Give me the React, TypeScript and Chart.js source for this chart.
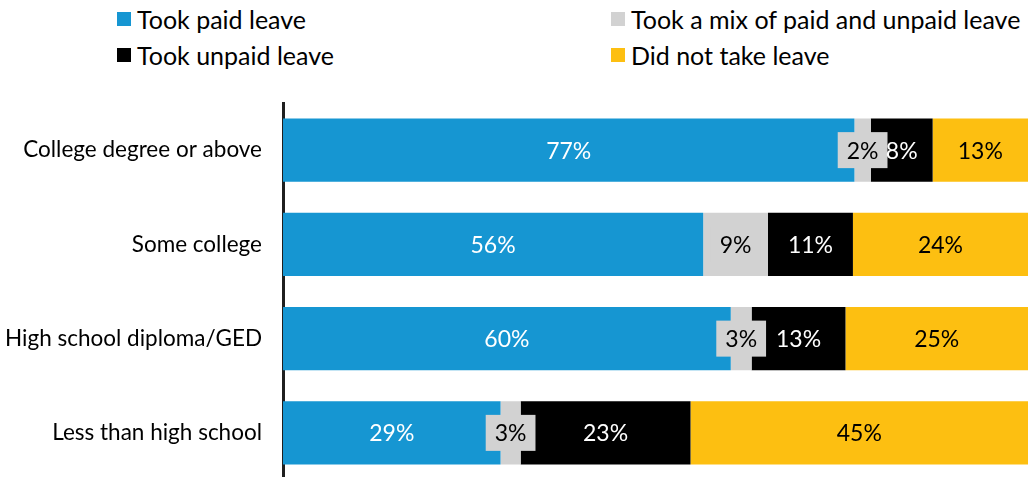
import React, { useEffect, useRef } from "react";
import { Chart, registerables } from "chart.js";

Chart.register(...registerables);

const categories = [
  "College degree or above",
  "Some college",
  "High school diploma/GED",
  "Less than high school",
];
const seriesNames = [
  "Took paid leave",
  "Took a mix of paid and unpaid leave",
  "Took unpaid leave",
  "Did not take leave",
];
const paidLeave = [76.7, 56.4, 60.1, 29.2];
const mixedLeave = [2.2, 8.7, 2.8, 2.7];
const unpaidLeave = [8.3, 11.4, 12.6, 22.8];
const noLeave = [12.8, 23.5, 24.5, 45.3];
const colors = ["#1696d2", "#d2d2d2", "#000000", "#fdbf11"];
const labelColors = ["#ffffff", "#000000", "#ffffff", "#000000"];

const FONT = "Lato, 'Open Sans', sans-serif";

const labelPlugin = {
  id: "segLabels",
  afterDatasetsDraw(chart: any) {
    const ctx = chart.ctx;
    ctx.save();
    ctx.font = `23px ${FONT}`;
    ctx.textAlign = "center";
    ctx.textBaseline = "middle";
    chart.data.datasets.forEach((ds: any, di: number) => {
      const meta = chart.getDatasetMeta(di);
      meta.data.forEach((el: any, i: number) => {
        const v = ds.data[i];
        const text = Math.round(v) + "%";
        const cx = (el.x + el.base) / 2;
        const cy = el.y;
        if (di === 1) {
          const w = ctx.measureText(text).width + 18;
          const h = 36;
          ctx.fillStyle = colors[1];
          ctx.fillRect(cx - w / 2, cy - h / 2, w, h);
        }
        ctx.fillStyle = labelColors[di];
        ctx.fillText(text, cx, cy + 1);
      });
    });
    ctx.restore();
  },
};

export default function App() {
  const ref = useRef<HTMLCanvasElement | null>(null);
  useEffect(() => {
    if (!ref.current) return;
    const series = [paidLeave, mixedLeave, unpaidLeave, noLeave];
    const chart = new Chart(ref.current, {
      type: "bar",
      data: {
        labels: categories,
        datasets: series.map((d, i) => ({
          label: seriesNames[i],
          data: d,
          backgroundColor: colors[i],
          borderWidth: 0,
          barPercentage: 0.67,
          categoryPercentage: 1,
        })),
      },
      options: {
        indexAxis: "y",
        animation: false,
        responsive: true,
        maintainAspectRatio: false,
        layout: { padding: { top: 103, right: 0, bottom: 0, left: 0 } },
        plugins: { legend: { display: false }, tooltip: { enabled: false } },
        scales: {
          x: { stacked: true, min: 0, max: 100, display: false },
          y: {
            stacked: true,
            z: 1,
            grid: { display: false, drawTicks: false },
            border: { display: true, color: "#1f1f1f", width: 3 },
            ticks: {
              padding: 21,
              color: "#000000",
              font: { family: FONT, size: 22.5 },
            },
            afterFit(scale: any) {
              scale.width = 283;
              scale.paddingTop = 0;
              scale.paddingBottom = 0;
            },
          },
        },
      },
      plugins: [labelPlugin],
    } as any);
    return () => chart.destroy();
  }, []);

  const legendItem = (i: number, left: number, top: number) => (
    <div
      key={i}
      style={{
        position: "absolute",
        left,
        top,
        display: "flex",
        alignItems: "center",
        fontFamily: FONT,
        fontSize: 25,
        color: "#000",
        whiteSpace: "nowrap",
        lineHeight: "36px",
      }}
    >
      <span
        style={{
          display: "inline-block",
          width: 14,
          height: 14,
          background: colors[i],
          marginRight: 6,
        }}
      />
      <span>{seriesNames[i]}</span>
    </div>
  );

  return (
    <div
      style={{
        position: "fixed",
        left: 0,
        top: 0,
        width: 1028,
        height: 477,
        overflow: "hidden",
        background: "#fff",
      }}
    >
      {legendItem(0, 117, 1)}
      {legendItem(1, 611, 1)}
      {legendItem(2, 117, 37)}
      {legendItem(3, 611, 37)}
      <div style={{ position: "absolute", left: 0, top: 0, width: 1028, height: 480 }}>
        <canvas ref={ref} />
      </div>
    </div>
  );
}
